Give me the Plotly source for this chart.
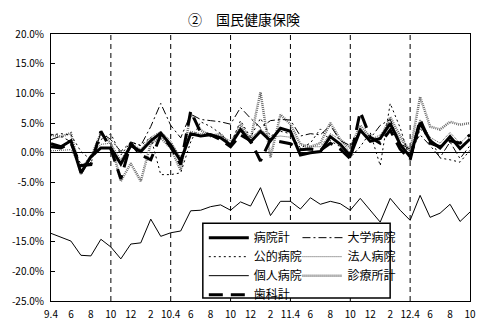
import plotly.graph_objects as go

# ---- data -------------------------------------------------------------
MONTHS = (["9." + str(m) for m in range(4, 13)] + ["9.1", "9.2", "9.3"]
          + ["10." + str(m) for m in range(4, 13)] + ["10.1", "10.2", "10.3"]
          + ["11." + str(m) for m in range(4, 13)] + ["11.1", "11.2", "11.3"]
          + ["12." + str(m) for m in range(4, 11)])
# make category names unique (Jan-Mar belong to the following calendar year)
MONTHS = [m if i % 12 < 9 else m + "b" for i, m in enumerate(MONTHS)]

X_TICK_LABELS = ["9.4", "6", "8", "10", "12", "2",
                 "10.4", "6", "8", "10", "12", "2",
                 "11.4", "6", "8", "10", "12", "2",
                 "12.4", "6", "8", "10"]
GRID_MONTHS = ["9.10", "10.4", "10.10", "11.4", "11.10", "12.4"]

Y_TICKS = [20, 15, 10, 5, 0, -5, -10, -15, -20, -25]
Y_LABELS = ["20.0%", "15.0%", "10.0%", "5.0%", "0.0%", "-5.0%",
            "-10.0%", "-15.0%", "-20.0%", "-25.0%"]

TITLE = "②\u3000国民健康保険"

hospital_total = [1.5, 1.0, 2.0, -3.4, -0.7, 0.8, 0.8, -1.9, 1.2, 0.2, 2.0, 3.3, 1.3, -1.4,
                  3.2, 2.8, 3.0, 2.5, 1.3, 3.9, 1.8, 3.6, 2.0, 4.1, 3.6, -0.4, 0.0, 0.2,
                  2.7, 1.4, -0.5, 3.8, 1.9, 2.4, 4.9, 1.4, -0.7, 5.0, 2.0, 0.8, 2.7, 0.7, 2.3]
university = [2.2, 2.8, 1.8, -2.0, -1.8, 3.4, 2.2, 0.2, 1.8, 1.2, 4.4, 8.3, 4.6, 2.5,
              6.5, 5.6, 5.4, 5.2, 4.8, 7.6, 5.8, 4.2, 5.4, 5.6, 5.5, 2.8, 3.2, 3.0,
              4.6, 2.0, 1.2, 3.5, 2.4, 4.6, 5.6, 1.5, 0.6, 3.0, 1.2, -0.8, 1.8, -1.0, 1.2]
public = [3.0, 3.2, 3.0, 0.2, -1.2, 2.2, 3.2, -0.4, 1.8, 1.2, 2.6, -3.7, -3.7, -3.4,
          1.8, 5.2, 4.4, 3.2, 1.4, 5.4, 2.6, 5.8, 2.8, 3.6, 3.2, 0.8, 1.6, 4.0,
          2.0, 1.0, -0.8, 1.0, 3.4, -2.2, 8.3, 4.2, -1.2, 4.0, 2.6, -0.9, -1.2, -1.6, 0.4]
corporate = [0.3, 0.4, 0.5, -2.6, -0.4, 1.4, 1.6, -1.2, 1.6, 0.6, 2.6, 3.6, 2.0, -0.8,
             3.6, 3.2, 3.2, 2.8, 2.0, 4.2, 2.4, 4.0, 2.6, 2.8, 2.6, 0.6, 1.0, 1.0,
             3.2, 2.2, 0.0, 4.0, 2.2, 3.0, 5.2, 2.2, 0.2, 5.6, 2.6, 1.6, 3.4, 1.6, 3.2]
individual = [-13.6, -14.2, -14.9, -17.3, -17.4, -14.6, -15.9, -17.9, -15.4, -15.2, -11.2,
              -14.1, -13.5, -13.2, -9.8, -9.7, -9.1, -8.8, -9.7, -8.3, -9.0, -5.9, -10.6,
              -8.2, -8.2, -9.5, -7.6, -8.7, -8.2, -8.6, -9.7, -7.7, -9.7, -11.7, -7.7,
              -9.7, -11.4, -7.2, -10.9, -10.2, -8.7, -11.6, -10.0]
clinic = [3.0, 2.7, 3.3, -3.6, -0.8, 3.3, 1.6, -4.8, -1.8, -4.8, 1.5, 2.5, 0.8, -3.0,
          6.6, 3.8, 2.8, 3.2, 1.2, 4.8, 2.2, 10.2, -0.8, 6.4, 4.8, 1.4, 1.0, 1.6,
          5.0, 2.2, 0.8, 4.6, 2.6, 2.2, 6.0, 2.8, 0.2, 9.4, 4.4, 3.9, 5.2, 4.7, 5.0]
dental = [1.0, 0.8, 1.6, -2.2, -2.0, 3.6, 0.6, -4.4, 1.6, -0.4, -1.2, 3.0, 1.0, -2.0,
          7.0, 3.4, 3.0, 2.2, 1.0, 3.0, 2.0, -1.4, 2.2, 1.8, 1.5, 0.5, 0.6, 0.4,
          1.6, 0.6, -1.0, 6.9, 2.6, 1.6, 3.8, 0.6, -1.2, 5.6, 1.6, 1.0, 2.0, 1.6, 3.0]

# ---- figure -----------------------------------------------------------
FONT = "Noto Sans CJK JP"
W, H = 488, 333
ML, MR, MT, MB = 46, 17, 34, 28
PW = W - ML - MR
PH = H - MT - MB


def px_x(p):
    return (p - ML) / PW


def px_y(p):
    return (H - MB - p) / PH


series = [
    # name, values, color, width, dash, legend, rank
    ("診療所計", clinic, "#6e6e6e", 2.5, "1px,1px", "legend2", 3),
    ("法人病院", corporate, "#505050", 1, "1px,1px", "legend2", 2),
    ("公的病院", public, "black", 1, "2px,3px", "legend", 2),
    ("大学病院", university, "black", 1, "8px,3px,2px,3px", "legend2", 1),
    ("個人病院", individual, "black", 1, "solid", "legend", 3),
    ("歯科計", dental, "black", 3, "14px,8px", "legend", 4),
    ("病院計", hospital_total, "black", 3, "solid", "legend", 1),
]

fig = go.Figure()
for name, vals, color, width, dash, leg, rank in series:
    fig.add_trace(go.Scatter(
        x=MONTHS, y=vals, mode="lines", name=name,
        line=dict(color=color, width=width, dash=dash),
        legend=leg, legendrank=rank, hoverinfo="skip"))

# dashed half-year separators (category index on the x axis)
grid_shapes = [dict(type="line", xref="x", yref="y domain",
                    x0=MONTHS.index(m), x1=MONTHS.index(m), y0=0, y1=1,
                    line=dict(color="black", width=1, dash="5px,4px"), layer="below")
               for m in GRID_MONTHS]

fig.update_layout(
    width=W, height=H,
    margin=dict(l=ML, r=MR, t=MT, b=MB, pad=0),
    paper_bgcolor="white", plot_bgcolor="white",
    font=dict(family=FONT, color="black", size=10),
    title=dict(text=TITLE, x=0.5, xanchor="center", xref="container",
               y=1 - 20 / H, yanchor="middle", yref="container",
               font=dict(family=FONT, size=14, color="black")),
    xaxis=dict(type="category", categoryorder="array", categoryarray=MONTHS,
               range=[0, len(MONTHS) - 1],
               showline=True, linecolor="black", linewidth=1, mirror=True,
               tickmode="array", tickvals=MONTHS[::2], ticktext=X_TICK_LABELS,
               ticks="outside", ticklen=4, tickcolor="rgba(0,0,0,0)",
               showgrid=False, zeroline=False, fixedrange=True,
               tickfont=dict(size=10, family=FONT)),
    yaxis=dict(range=[-25, 20], showline=True,
               linecolor="black", linewidth=1, mirror=True, tickmode="array",
               tickvals=Y_TICKS, ticktext=Y_LABELS, ticks="inside", ticklen=4,
               tickcolor="black", ticklabelstandoff=4, showgrid=False, zeroline=True,
               zerolinecolor="black", zerolinewidth=1,
               tickfont=dict(size=10, family=FONT), fixedrange=True),
    legend=dict(x=px_x(201), y=px_y(226), xanchor="left", yanchor="top",
                bgcolor="rgba(0,0,0,0)", borderwidth=0, itemwidth=40,
                font=dict(family=FONT, size=12), tracegroupgap=0,
                itemclick=False, itemdoubleclick=False),
    legend2=dict(x=px_x(296), y=px_y(226), xanchor="left", yanchor="top",
                 bgcolor="rgba(0,0,0,0)", borderwidth=0, itemwidth=40,
                 font=dict(family=FONT, size=12), tracegroupgap=0,
                 itemclick=False, itemdoubleclick=False),
    shapes=grid_shapes + [
        dict(type="rect", xref="paper", yref="paper",
             x0=px_x(200), x1=px_x(390), y0=px_y(302), y1=px_y(226),
             line=dict(color="black", width=1.5), fillcolor="white",
             layer="above"),
    ],
    showlegend=True,
)

fig.write_html("out.html")
